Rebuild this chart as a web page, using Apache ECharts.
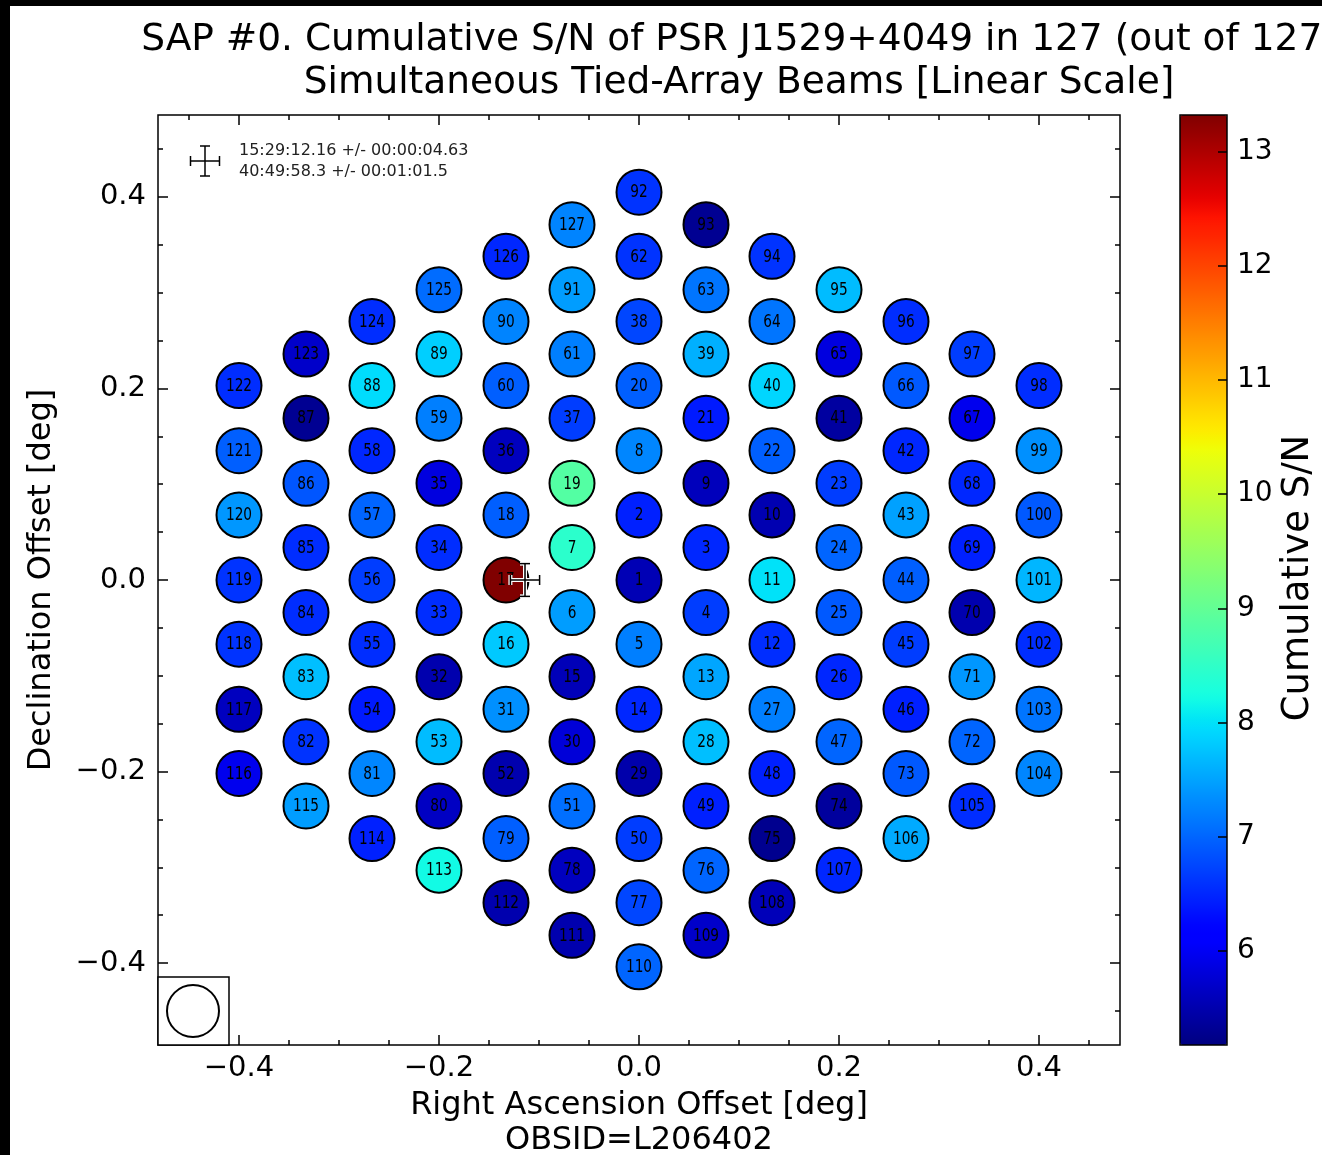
<!DOCTYPE html>
<html><head><meta charset="utf-8">
<script src="https://cdn.jsdelivr.net/npm/echarts@6/dist/echarts.min.js"></script>
<style>html,body{margin:0;padding:0;background:#fff}#c{width:1322px;height:1155px}</style>
</head><body><div id="c"></div>
<script>
// ---- data (beam index = position in array + 1) ----
const beamRA = [
 0.000, 0.000, 0.067, 0.067, 0.000,-0.067,-0.067, 0.000, 0.067, 0.133,
 0.133, 0.133, 0.067, 0.000,-0.067,-0.133,-0.133,-0.133,-0.067, 0.000,
 0.067, 0.133, 0.200, 0.200, 0.200, 0.200, 0.133, 0.067, 0.000,-0.067,
-0.133,-0.200,-0.200,-0.200,-0.200,-0.133,-0.067, 0.000, 0.067, 0.133,
 0.200, 0.267, 0.267, 0.267, 0.267, 0.267, 0.200, 0.133, 0.067, 0.000,
-0.067,-0.133,-0.200,-0.267,-0.267,-0.267,-0.267,-0.267,-0.200,-0.133,
-0.067, 0.000, 0.067, 0.133, 0.200, 0.267, 0.333, 0.333, 0.333, 0.333,
 0.333, 0.333, 0.267, 0.200, 0.133, 0.067, 0.000,-0.067,-0.133,-0.200,
-0.267,-0.333,-0.333,-0.333,-0.333,-0.333,-0.333,-0.267,-0.200,-0.133,
-0.067, 0.000, 0.067, 0.133, 0.200, 0.267, 0.333, 0.400, 0.400, 0.400,
 0.400, 0.400, 0.400, 0.400, 0.333, 0.267, 0.200, 0.133, 0.067, 0.000,
-0.067,-0.133,-0.200,-0.267,-0.333,-0.400,-0.400,-0.400,-0.400,-0.400,
-0.400,-0.400,-0.333,-0.267,-0.200,-0.133,-0.067];
const beamDec = [
 0.000, 0.068, 0.034,-0.034,-0.067,-0.034, 0.034, 0.135, 0.101, 0.068,
 0.000,-0.067,-0.101,-0.135,-0.101,-0.067, 0.000, 0.068, 0.101, 0.203,
 0.169, 0.135, 0.101, 0.034,-0.034,-0.101,-0.135,-0.169,-0.202,-0.169,
-0.135,-0.101,-0.034, 0.034, 0.101, 0.135, 0.169, 0.270, 0.236, 0.203,
 0.169, 0.135, 0.068, 0.000,-0.067,-0.135,-0.169,-0.202,-0.236,-0.270,
-0.236,-0.202,-0.169,-0.135,-0.067, 0.000, 0.068, 0.135, 0.169, 0.203,
 0.236, 0.338, 0.303, 0.270, 0.236, 0.203, 0.169, 0.101, 0.034,-0.034,
-0.101,-0.169,-0.202,-0.236,-0.270,-0.303,-0.337,-0.303,-0.270,-0.236,
-0.202,-0.169,-0.101,-0.034, 0.034, 0.101, 0.169, 0.203, 0.236, 0.270,
 0.303, 0.405, 0.371, 0.338, 0.303, 0.270, 0.236, 0.203, 0.135, 0.068,
 0.000,-0.067,-0.135,-0.202,-0.236,-0.270,-0.303,-0.337,-0.371,-0.404,
-0.371,-0.337,-0.303,-0.270,-0.236,-0.202,-0.135,-0.067, 0.000, 0.068,
 0.135, 0.203, 0.236, 0.270, 0.303, 0.338, 0.371];
const beamSN = [
 5.55, 6.45, 6.50, 6.68, 7.20, 7.45, 8.45, 7.27, 5.60, 5.52,
 8.00, 6.55, 7.52, 6.50, 5.57, 7.80,13.32, 6.95, 8.85, 6.95,
 6.40, 6.95, 6.68, 7.00, 6.90, 6.50, 7.20, 7.72, 5.48, 5.80,
 7.35, 5.50, 6.55, 6.55, 5.85, 5.62, 6.68, 6.75, 7.60, 7.90,
 5.40, 6.50, 7.48, 6.95, 6.68, 6.45, 7.00, 6.45, 6.45, 6.68,
 7.08, 5.50, 7.70, 6.40, 6.55, 6.68, 7.00, 6.50, 7.20, 6.95,
 7.20, 6.60, 7.12, 7.12, 5.85, 6.90, 5.95, 6.50, 6.45, 5.50,
 7.40, 7.00, 6.90, 5.38, 5.28, 7.00, 6.75, 5.62, 6.95, 5.65,
 7.27, 6.60, 7.72, 6.55, 6.55, 6.88, 5.30, 7.95, 7.85, 7.25,
 7.45, 6.60, 5.30, 6.60, 7.70, 6.55, 6.68, 6.55, 7.35, 6.90,
 7.65, 6.55, 7.12, 7.27, 6.55, 7.55, 6.50, 5.58, 5.70, 7.00,
 5.50, 5.50, 8.20, 6.45, 7.45, 5.95, 5.62, 6.60, 6.60, 7.40,
 6.95, 6.55, 5.70, 6.55, 7.05, 6.50, 7.25];
const snMin = 5.175, snMax = 13.32;
const xMajorTicks = [-0.4, -0.2, 0.0, 0.2, 0.4];
const xMinorTicks = [-0.45,-0.35,-0.3,-0.25,-0.15,-0.1,-0.05,0.05,0.1,0.15,0.25,0.3,0.35,0.45];
const yMajorTicks = [-0.4, -0.2, 0.0, 0.2, 0.4];
const yMinorTicks = [-0.45,-0.35,-0.3,-0.25,-0.15,-0.1,-0.05,0.05,0.1,0.15,0.25,0.3,0.35,0.45];
const cbTicks = [6, 7, 8, 9, 10, 11, 12, 13];
const fitPos = [[-0.114, 0.0, 0.0146, 0.0171]]; // ra, dec, raErr, decErr
const posText = ['15:29:12.16 +/- 00:00:04.63', '40:49:58.3 +/- 00:01:01.5'];
const titleText = 'SAP #0. Cumulative S/N of PSR J1529+4049 in 127 (out of 127)\nSimultaneous Tied-Array Beams [Linear Scale]';
const xName = 'Right Ascension Offset [deg]\nOBSID=L206402';
const yName = 'Declination Offset [deg]';
const cbName = 'Cumulative S/N';

// ---- jet colormap ----
function jet(t){
  const f = pts => { for (let i=1;i<pts.length;i++){ if (t<=pts[i][0]){ const a=pts[i-1], b=pts[i]; return a[1]+(b[1]-a[1])*(t-a[0])/(b[0]-a[0]); } } return pts[pts.length-1][1]; };
  const r=f([[0,0],[0.35,0],[0.66,1],[0.89,1],[1,0.5]]);
  const g=f([[0,0],[0.125,0],[0.375,1],[0.64,1],[0.91,0],[1,0]]);
  const b=f([[0,0.5],[0.11,1],[0.34,1],[0.65,0],[1,0]]);
  return 'rgb('+Math.round(r*255)+','+Math.round(g*255)+','+Math.round(b*255)+')';
}
const jetColors = []; for (let i=0;i<=128;i++) jetColors.push(jet(i/128));

const FONT = 'DejaVu Sans';
const fmt = v => (v < -1e-9 ? '\u2212' : '') + Math.abs(v).toFixed(1);
const tickStyle = {color:'#000', width:1.5};

function xAx(pos, ticks, len, labels){
  return {gridIndex:0, type:'value', position:pos, min:-0.481, max:0.481,
    axisLine:{show:false, onZero:false}, splitLine:{show:false},
    axisTick:{show:true, inside:true, length:len, customValues:ticks, lineStyle:tickStyle},
    axisLabel: labels ? {show:true, customValues:ticks, formatter:fmt, fontSize:29, fontFamily:FONT, color:'#000', margin:9} : {show:false}};
}
function yAx(pos, ticks, len, labels){
  return {gridIndex:0, type:'value', position:pos, min:-0.4856, max:0.4856,
    axisLine:{show:false, onZero:false}, splitLine:{show:false},
    axisTick:{show:true, inside:true, length:len, customValues:ticks, lineStyle:tickStyle},
    axisLabel: labels ? {show:true, customValues:ticks, formatter:fmt, fontSize:29, fontFamily:FONT, color:'#000', margin:12} : {show:false}};
}
const xAxes = [xAx('bottom', xMajorTicks, 10, true), xAx('bottom', xMinorTicks, 5, false), xAx('top', xMajorTicks, 10, false), xAx('top', xMinorTicks, 5, false),
  {gridIndex:1, type:'value', show:false, min:0, max:1, axisLine:{onZero:false}}];
Object.assign(xAxes[0], {name:xName, nameLocation:'middle', nameGap:40, nameTextStyle:{fontSize:32, fontFamily:FONT, color:'#000', lineHeight:35}});
const yAxes = [yAx('left', yMajorTicks, 10, true), yAx('left', yMinorTicks, 5, false), yAx('right', yMajorTicks, 10, false), yAx('right', yMinorTicks, 5, false),
  {gridIndex:1, type:'value', position:'right', min:snMin, max:snMax, z:10,
   axisLine:{show:false, onZero:false}, splitLine:{show:false},
   axisTick:{show:true, inside:true, length:9, customValues:cbTicks, lineStyle:tickStyle},
   axisLabel:{show:true, customValues:cbTicks, fontSize:28, fontFamily:FONT, color:'#000', margin:10}}];
Object.assign(yAxes[0], {name:yName, nameLocation:'middle', nameGap:100, nameTextStyle:{fontSize:32, fontFamily:FONT, color:'#000'}});

const chart = echarts.init(document.getElementById('c'), null, {renderer:'canvas'});
const beams = beamRA.map((r,i)=>[r, beamDec[i], beamSN[i], i+1]);

function crossLines(cx, cy, hx, hy, cap){
  return [[cx-hx,cy,cx+hx,cy],[cx,cy-hy,cx,cy+hy],
          [cx-hx,cy-cap,cx-hx,cy+cap],[cx+hx,cy-cap,cx+hx,cy+cap],
          [cx-cap,cy-hy,cx+cap,cy-hy],[cx-cap,cy+hy,cx+cap,cy+hy]];
}

chart.setOption({
  backgroundColor:'#fff',
  animation:false,
  grid:[{left:158, top:115, width:962, height:930, show:true, borderColor:'#000', borderWidth:1.5, backgroundColor:'rgba(0,0,0,0)', z:5, outerBoundsMode:'none', containLabel:false},
        {left:1180, top:115, width:47, height:930, show:false, outerBoundsMode:'none', containLabel:false}],
  xAxis:xAxes,
  yAxis:yAxes,
  visualMap:{type:'continuous', min:snMin, max:snMax, seriesIndex:0, dimension:2, show:true,
    left:1180, top:115, itemWidth:47, itemHeight:930, padding:0, calculable:false, text:null, showLabel:false,
    hoverLink:false, inRange:{color:jetColors}},
  series:[
    {type:'scatter', xAxisIndex:0, yAxisIndex:0, data:beams, symbol:'circle', symbolSize:45, z:2,
     itemStyle:{borderColor:'#000', borderWidth:2, opacity:1},
     emphasis:{disabled:true}, label:{show:false}},
    {type:'custom', xAxisIndex:0, yAxisIndex:0, data:beams, z:3, silent:true,
     renderItem:(params, api)=>{
       const c = api.coord([api.value(0), api.value(1)]);
       return {type:'text', x:c[0], y:c[1]+0.5, scaleX:0.74, scaleY:1,
         style:{text:String(api.value(3)), font:'18.5px "DejaVu Sans"', fill:'#000', align:'center', verticalAlign:'middle', textAlign:'center', textVerticalAlign:'middle'}};
     }},
    {type:'custom', xAxisIndex:0, yAxisIndex:0, data:fitPos, z:4,
     renderItem:(params, api)=>{
       const c = api.coord([api.value(0), api.value(1)]);
       const l = api.coord([api.value(0)-api.value(2), api.value(1)]);
       const t = api.coord([api.value(0), api.value(1)+api.value(3)]);
       const segs = crossLines(c[0], c[1], c[0]-l[0], c[1]-t[1], 5);
       const mk = (s, col, w) => ({type:'line', shape:{x1:s[0],y1:s[1],x2:s[2],y2:s[3]}, style:{stroke:col, lineWidth:w}});
       return {type:'group', children: segs.map(s=>mk(s,'#fff',4)).concat(segs.map(s=>mk(s,'#000',1.5)))};
     }}
  ],
  graphic:[
    {type:'rect', shape:{x:1180, y:115, width:47, height:930}, style:{fill:null, stroke:'#000', lineWidth:1.5}, z:100},
    {type:'group', z:100, children: crossLines(205,161,14.5,15,5).map(s=>({type:'line', shape:{x1:s[0],y1:s[1],x2:s[2],y2:s[3]}, style:{stroke:'#000', lineWidth:1.5}}))},
    {type:'text', x:239, y:151, z:100, style:{text:posText[0], font:'16px "DejaVu Sans"', fill:'#222', textVerticalAlign:'middle'}},
    {type:'text', x:239, y:172, z:100, style:{text:posText[1], font:'16px "DejaVu Sans"', fill:'#222', textVerticalAlign:'middle'}},
    {type:'rect', shape:{x:158, y:977, width:71, height:68}, style:{fill:'#fff', stroke:'#000', lineWidth:1.5}, z:100},
    {type:'circle', shape:{cx:193, cy:1011, r:26}, style:{fill:null, stroke:'#000', lineWidth:2}, z:101},
    {type:'text', x:739, y:62, z:100, style:{text:titleText, font:'37.5px "DejaVu Sans"', lineHeight:43, fill:'#000', textAlign:'center', textVerticalAlign:'middle'}},
    {type:'text', x:1298, y:578, rotation:Math.PI/2, z:100, style:{text:cbName, font:'37px "DejaVu Sans"', fill:'#000', textAlign:'center', textVerticalAlign:'middle'}},
    {type:'rect', shape:{x:0, y:0, width:10, height:1155}, style:{fill:'#000'}, z:200},
    {type:'rect', shape:{x:0, y:0, width:1322, height:6}, style:{fill:'#000'}, z:200}
  ]
});
</script></body></html>
